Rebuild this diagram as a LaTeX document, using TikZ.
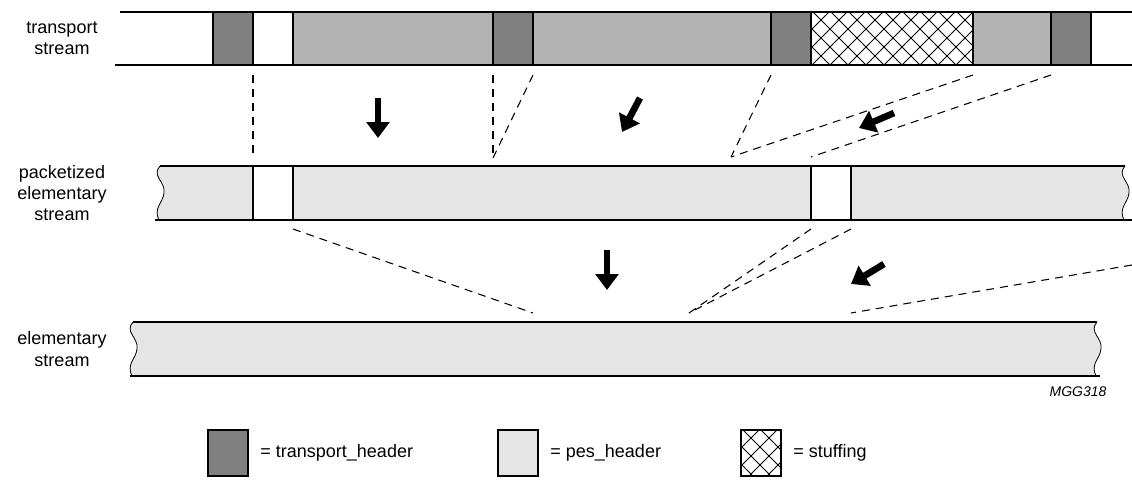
\documentclass[tikz,border=0pt]{standalone}
\usepackage{fontspec}
\setmainfont{Liberation Sans}
\usetikzlibrary{arrows.meta,positioning}
\definecolor{hdrgray}{HTML}{808080}
\definecolor{paygray}{HTML}{B3B3B3}
\definecolor{pesgray}{HTML}{E5E5E5}
% wavy cut edge of a strip, top to bottom
\newcommand\cutedge[2]{(#1,#2) .. controls (#1-9,#2+10) and (#1+6,#2+16) .. (#1+4,#2+27) .. controls (#1+3,#2+37) and (#1-7,#2+42) .. (#1-1,#2+54)}
% cross hatching inside a box
\newcommand\crosshatch[4]{%
  \begin{scope}
    \clip (#1,#2) rectangle (#3,#4);
    \foreach \c in {0,18,...,260} {
      \draw[line width=0.6pt] (#1+\c,#2) -- ++(-70,70);
      \draw[line width=0.6pt] (#1+\c-70,#2) -- ++(70,70);
    }
  \end{scope}}

\begin{document}
\begin{tikzpicture}[x=0.75pt,y=-0.75pt,
  strip/.style={line width=1.6pt},
  link/.style={dash pattern=on 6pt off 4.5pt, line width=0.8pt},
  flow/.style={line width=5pt, -{Triangle[width=17pt,length=12pt]}},
  lbl/.style={align=center, font=\fontsize{13.5}{16}\selectfont},
  key/.style={draw, line width=1.6pt, minimum width=30pt, minimum height=34.5pt, inner sep=0pt},
  keytext/.style={right=5pt of #1, font=\fontsize{13.5}{16}\selectfont}]
\useasboundingbox (0,0) rectangle (1132,486);

% transport stream
\fill[hdrgray] (213,12) rectangle (253,65);
\fill[paygray] (293,12) rectangle (493,65);
\fill[hdrgray] (493,12) rectangle (533,65);
\fill[paygray] (533,12) rectangle (771,65);
\fill[hdrgray] (771,12) rectangle (811,65);
\crosshatch{811}{12}{973}{65}
\fill[paygray] (973,12) rectangle (1051,65);
\fill[hdrgray] (1051,12) rectangle (1091,65);
\foreach \x in {213,253,293,493,533,771,811,973,1051,1091}
  \draw[strip] (\x,12) -- (\x,65);
\draw[strip] (120,12) -- (1132,12);
\draw[strip] (115,65) -- (1132,65);

% packetized elementary stream
\fill[pesgray] \cutedge{160}{166} -- (650,220) -- (650,166) -- cycle;
\fill[pesgray] \cutedge{1125}{166} -- (600,220) -- (600,166) -- cycle;
\fill[white] (253,166) rectangle (293,220);
\fill[white] (811,166) rectangle (851,220);
\foreach \x in {253,293,811,851}
  \draw[strip] (\x,166) -- (\x,220);
\draw[line width=0.6pt] \cutedge{160}{166};
\draw[line width=0.6pt] \cutedge{1125}{166};
\draw[strip] (160,166) -- (1125,166);
\draw[strip] (155,220) -- (1132,220);

% elementary stream
\fill[pesgray] \cutedge{133}{322} -- (650,376) -- (650,322) -- cycle;
\fill[pesgray] \cutedge{1097}{322} -- (600,376) -- (600,322) -- cycle;
\draw[line width=0.6pt] \cutedge{133}{322};
\draw[line width=0.6pt] \cutedge{1097}{322};
\draw[strip] (133,322) -- (1097,322);
\draw[strip] (130,376) -- (1100,376);

\node[lbl] (tslbl) at (62,38) {transport\\stream};
\node[lbl] (peslbl) at (62,193) {packetized\\elementary\\stream};
\node[lbl] (eslbl) at (62,349) {elementary\\stream};

% dashed guides
\coordinate (t1) at (253,75);
\coordinate (t2) at (493,75);
\coordinate (t3) at (533,75);
\coordinate (t4) at (771,75);
\coordinate (t5) at (973,75);
\coordinate (t6) at (1051,75);
\coordinate (p1) at (253,158);
\coordinate (p2) at (493,158);
\coordinate (p3) at (731,157);
\coordinate (p4) at (811,157);
\coordinate (q1) at (293,229);
\coordinate (q2) at (811,229);
\coordinate (q3) at (851,229);
\coordinate (q4) at (1132,265);
\coordinate (e1) at (533,313);
\coordinate (e2) at (689,313);
\coordinate (e3) at (851,313);
\foreach \u/\v in {t1/p1,t2/p2,t3/p2,t4/p3,t5/p3,t6/p4,q1/e1,q2/e2,q3/e2,q4/e3}
  \draw[link] (\u) -- (\v);

% arrows
\draw[flow] (378,98) -- (378,138);
\draw[flow] (640,98) -- (622,132);
\draw[flow] (894,113) -- (859,128);
\draw[flow] (607,250) -- (607,290);
\draw[flow] (884,264) -- (851,284);

\node[font=\itshape\fontsize{10.5}{12}\selectfont] (code) at (1078,392) {MGG318};

% legend
\node[key, fill=hdrgray] (khdr) at (228,453) {};
\node[keytext=khdr] (thdr) {= transport\_header};
\node[key, fill=pesgray] (kpes) at (518,453) {};
\node[keytext=kpes] (tpes) {= pes\_header};
\node[key, fill=white] (kstuff) at (761,453) {};
\crosshatch{741}{430}{781}{476}
\node[keytext=kstuff] (tstuff) {= stuffing};
\end{tikzpicture}
\end{document}
